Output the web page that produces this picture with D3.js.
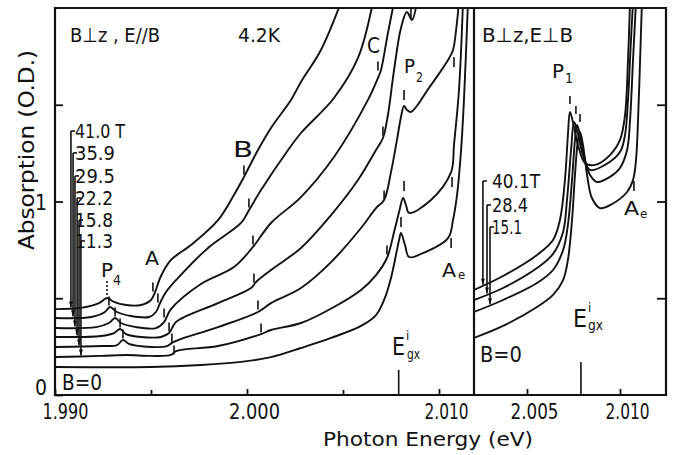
<!DOCTYPE html>
<html lang="en">
<head>
<meta charset="UTF-8">
<title>Absorption vs Photon Energy</title>
<script src="https://d3js.org/d3.v7.min.js"></script>
<style>
    body { margin: 0; background: #fff; }
    svg { display: block; }
    text { font-family: "DejaVu Sans Condensed", "Liberation Sans Narrow", "DejaVu Sans", sans-serif; fill: #111; }
    .curve { fill: none; stroke: #111; stroke-width: 1.9px; stroke-linejoin: round; }
    .frame { fill: none; stroke: #111; stroke-width: 2.2px; }
    .mark { stroke: #111; stroke-width: 1.6px; }
    .axis line { stroke: #111; stroke-width: 1.8px; }
    .axis path { display: none; }
</style>
</head>
<body>
<svg id="svg" width="677" height="455"></svg>
<script>
// ---- values: photon energy (eV), absorption (O.D.) ----

// left panel  B perp z, E // B
const eL0  = [1.99005,1.99500,1.99760,1.99969,2.00125,2.00281,2.00438,2.00594,2.00672,2.00714,2.00750,2.00776,2.00792,2.00802,2.00823,2.00844,2.00906,2.01047,2.01073,2.01094,2.01115,2.01130,2.01151];
const aL0  = [0.145,0.145,0.155,0.171,0.196,0.243,0.295,0.357,0.413,0.491,0.605,0.724,0.801,0.837,0.775,0.713,0.729,0.811,0.904,1.034,1.266,1.525,2.031];
const eL11 = [1.99005,1.99240,1.99370,1.99500,1.99604,1.99630,1.99849,2.00073,2.00125,2.00281,2.00453,2.00594,2.00672,2.00729,2.00766,2.00792,2.00813,2.00828,2.00844,2.00958,2.01063,2.01078,2.01104,2.01125];
const aL11 = [0.196,0.202,0.207,0.202,0.207,0.227,0.253,0.315,0.336,0.372,0.455,0.543,0.620,0.708,0.842,0.946,1.018,0.982,0.941,1.008,1.152,1.292,1.576,2.031];
const eL15 = [1.99005,1.99240,1.99323,1.99354,1.99385,1.99500,1.99583,1.99609,1.99641,1.99849,2.00057,2.00125,2.00281,2.00438,2.00594,2.00672,2.00714,2.00750,2.00781,2.00802,2.00818,2.00833,2.00854,2.00948,2.01047,2.01073,2.01089,2.01104];
const aL15 = [0.248,0.253,0.258,0.284,0.264,0.248,0.253,0.269,0.284,0.351,0.429,0.475,0.553,0.687,0.863,0.966,1.008,1.152,1.318,1.437,1.494,1.473,1.463,1.587,1.731,1.783,1.886,2.031];
const eL22 = [1.99005,1.99240,1.99307,1.99339,1.99370,1.99448,1.99552,1.99594,1.99630,1.99849,2.00021,2.00047,2.00125,2.00281,2.00438,2.00578,2.00672,2.00708,2.00734,2.00766,2.00802,2.00833,2.00859,2.00885];
const aL22 = [0.300,0.305,0.320,0.341,0.315,0.300,0.300,0.320,0.377,0.475,0.553,0.584,0.646,0.760,0.930,1.111,1.266,1.328,1.447,1.680,1.897,1.979,1.938,2.031];
const eL29 = [1.99005,1.99214,1.99281,1.99313,1.99344,1.99422,1.99526,1.99568,1.99604,1.99760,1.99932,2.00031,2.00125,2.00281,2.00453,2.00630,2.00682,2.00698,2.00734,2.00766];
const aL29 = [0.346,0.351,0.372,0.398,0.372,0.351,0.346,0.377,0.444,0.574,0.661,0.765,0.889,1.023,1.230,1.525,1.638,1.680,1.871,2.031];
const eL35 = [1.99005,1.99188,1.99260,1.99286,1.99323,1.99396,1.99490,1.99526,1.99547,1.99578,1.99641,1.99797,1.99969,2.00005,2.00073,2.00214,2.00281,2.00453,2.00578,2.00656];
const aL35 = [0.398,0.403,0.429,0.455,0.429,0.408,0.403,0.429,0.475,0.532,0.605,0.760,0.889,0.946,1.059,1.266,1.354,1.535,1.742,2.031];
const eL41 = [1.99005,1.99135,1.99229,1.99271,1.99307,1.99370,1.99448,1.99500,1.99521,1.99552,1.99604,1.99708,1.99849,1.99932,1.99984,2.00057,2.00125,2.00229,2.00281,2.00385,2.00490];
const aL41 = [0.444,0.450,0.475,0.501,0.481,0.465,0.465,0.491,0.532,0.615,0.698,0.775,0.904,1.034,1.127,1.266,1.380,1.525,1.618,1.783,2.031];

// right panel  B perp z, E perp B
const eR0  = [2.00215,2.00371,2.00554,2.00640,2.00694,2.00720,2.00742,2.00758,2.00774,2.00785,2.00801,2.00823,2.00849,2.00892,2.00957,2.01038,2.01070,2.01086,2.01097,2.01108,2.01118];
const aR0  = [0.295,0.357,0.455,0.517,0.594,0.698,0.904,1.137,1.318,1.359,1.292,1.137,1.018,0.966,0.987,1.049,1.111,1.214,1.421,1.731,2.031];
const eR15 = [2.00215,2.00371,2.00554,2.00640,2.00694,2.00720,2.00742,2.00758,2.00769,2.00785,2.00812,2.00839,2.00876,2.00946,2.01000,2.01038,2.01054,2.01070,2.01086];
const aR15 = [0.429,0.491,0.579,0.646,0.749,0.879,1.111,1.318,1.395,1.344,1.214,1.137,1.101,1.127,1.173,1.266,1.421,1.731,2.031];
const eR28 = [2.00215,2.00371,2.00554,2.00640,2.00694,2.00715,2.00737,2.00753,2.00769,2.00801,2.00839,2.00919,2.01000,2.01027,2.01043,2.01059,2.01070];
const aR28 = [0.491,0.553,0.656,0.729,0.842,1.008,1.266,1.411,1.370,1.240,1.163,1.189,1.256,1.344,1.525,1.835,2.031];
const eR40 = [2.00215,2.00371,2.00554,2.00640,2.00677,2.00704,2.00720,2.00731,2.00747,2.00774,2.00812,2.00866,2.00946,2.01000,2.01027,2.01043,2.01054];
const aR40 = [0.543,0.615,0.724,0.801,0.904,1.111,1.344,1.463,1.411,1.292,1.199,1.189,1.240,1.318,1.447,1.731,2.031];

// feature marks drawn as short bars above the curves
const p4E = [1.99271,1.99281,1.99313,1.99339,1.99354];
const p4A = [0.543,0.486,0.429,0.372,0.315];
const aMarkE = [1.99510,1.99536,1.99568,1.99594,1.99609,1.99620];
const aMarkA = [0.558,0.501,0.424,0.351,0.295,0.233];
const bMarkE = [1.99984,2.00010,2.00031,2.00036,2.00057,2.00073];
const bMarkA = [1.163,0.992,0.801,0.605,0.465,0.346];
const cMarkE = [2.00682,2.00708,2.00714,2.00729];
const cMarkA = [1.700,1.364,1.034,0.749];
const p2E = [2.00854,2.00818,2.00818,2.00802];
const p2A = [1.969,1.550,1.080,0.894];
const aeLeftE = [2.01078,2.01068,2.01063];
const aeLeftA = [1.721,1.101,0.785];
const p1E = [2.00731,2.00763,2.00785];
const p1A = [1.525,1.473,1.432];
const aeRightE = [2.01075];
const aeRightA = [1.080];
const egx = 2.0079;

// field labels
const leftLabels = ["41.0 T","35.9","29.5","22.2","15.8","11.3"];
const leftLabelW = [50, 40, 40, 38, 38, 38];
const leftLabelA = [1.364,1.251,1.132,1.018,0.904,0.796];
const leftPointerE = [1.99083,1.99094,1.99104,1.99115,1.99125,1.99135];
const rightLabels = ["40.1T","28.4","15.1"];
const rightLabelW = [48, 36, 30];
const rightLabelA = [1.106,0.982,0.868];
const rightPointerE = [2.00263,2.00285,2.00301];

// axes
const leftMajor = [1.990, 2.000, 2.010];
const leftMinor = [1.995, 2.005];
const rightMajor = [2.005, 2.010];
const yTicks = [0, 0.5, 1, 1.5];

// ---- layout ----
const pTop = 8, pBottom = 395, pLeft = 55, pMid = 474, pRight = 666;
const svg = d3.select("#svg");
const xL = d3.scaleLinear().domain([1.990, 2.010]).range([55, 439]);
const xR = d3.scaleLinear().domain([2.005, 2.010]).range([527, 620]);
const y = d3.scaleLinear().domain([0, 2]).range([pBottom, pTop]);

const defs = svg.append("defs");
defs.append("clipPath").attr("id", "clipL").append("rect")
    .attr("x", pLeft).attr("y", pTop).attr("width", pMid - pLeft).attr("height", pBottom - pTop);
defs.append("clipPath").attr("id", "clipR").append("rect")
    .attr("x", pMid).attr("y", pTop).attr("width", pRight - pMid).attr("height", pBottom - pTop);

function interp(E, es, as) {
    const i = d3.bisectLeft(es, E);
    if (i <= 0) return as[0];
    if (i >= es.length) return as[as.length - 1];
    const t = (E - es[i - 1]) / (es[i] - es[i - 1]);
    return as[i - 1] + t * (as[i] - as[i - 1]);
}

const leftSeries = [[eL0, aL0], [eL11, aL11], [eL15, aL15], [eL22, aL22], [eL29, aL29], [eL35, aL35], [eL41, aL41]];
const rightSeries = [[eR0, aR0], [eR15, aR15], [eR28, aR28], [eR40, aR40]];

function drawCurves(series, x, clip) {
    const line = d3.line().x(d => x(d[0])).y(d => y(d[1])).curve(d3.curveCatmullRom.alpha(0.5));
    svg.append("g").attr("clip-path", "url(#" + clip + ")")
        .selectAll("path")
        .data(series.map(s => s[0].map((e, i) => [e, s[1][i]])))
        .enter().append("path")
        .attr("class", "curve")
        .attr("d", line);
}
drawCurves(leftSeries, xL, "clipL");
drawCurves(rightSeries, xR, "clipR");

function drawMarks(es, as, x, len) {
    svg.append("g").selectAll("line")
        .data(es.map((e, i) => [e, as[i]]))
        .enter().append("line")
        .attr("class", "mark")
        .attr("x1", d => x(d[0])).attr("x2", d => x(d[0]))
        .attr("y1", d => y(d[1]) - len / 2).attr("y2", d => y(d[1]) + len / 2);
}
drawMarks(p4E.slice(1), p4A.slice(1), xL, 9);
svg.append("line").attr("class", "mark").attr("stroke-dasharray", "2,2")
    .attr("x1", xL(p4E[0])).attr("x2", xL(p4E[0]))
    .attr("y1", y(p4A[0]) - 9).attr("y2", y(p4A[0]) + 6);
drawMarks(aMarkE, aMarkA, xL, 9);
drawMarks(bMarkE, bMarkA, xL, 9);
drawMarks(cMarkE, cMarkA, xL, 9);
drawMarks(p2E, p2A, xL, 10);
drawMarks(aeLeftE, aeLeftA, xL, 10);
drawMarks(p1E, p1A, xR, 8);
drawMarks(aeRightE, aeRightA, xR, 10);

// E_gx long ticks
svg.append("line").attr("class", "mark").attr("stroke-width", 2)
    .attr("x1", xL(egx)).attr("x2", xL(egx)).attr("y1", y(0)).attr("y2", y(0.13));
svg.append("line").attr("class", "mark").attr("stroke-width", 2)
    .attr("x1", xR(egx)).attr("x2", xR(egx)).attr("y1", y(0)).attr("y2", y(0.17));

// field label pointers
function drawPointers(labels, widths, labelA, pointerE, series, x, textX) {
    labels.forEach((lab, i) => {
        const px = x(pointerE[i]);
        const s = series[i];
        const y0 = y(labelA[i]);
        const y1 = y(interp(pointerE[i], s[0], s[1])) - 1;
        svg.append("line").attr("class", "mark").attr("stroke-width", 1.4)
            .attr("x1", px).attr("x2", px).attr("y1", y0).attr("y2", y1);
        svg.append("line").attr("class", "mark").attr("stroke-width", 1.4)
            .attr("x1", px).attr("x2", px + 4).attr("y1", y0).attr("y2", y0);
        svg.append("path").attr("fill", "#111")
            .attr("d", `M${px - 2},${y1 - 6}L${px + 2},${y1 - 6}L${px},${y1}Z`);
        svg.append("text").attr("x", textX).attr("y", y0 + 7)
            .attr("font-size", 19)
            .attr("textLength", widths[i]).attr("lengthAdjust", "spacingAndGlyphs")
            .text(lab);
    });
}
drawPointers(leftLabels, leftLabelW, leftLabelA, leftPointerE, leftSeries.slice(1).reverse(), xL, 75);
drawPointers(rightLabels, rightLabelW, rightLabelA, rightPointerE, rightSeries.slice(1).reverse(), xR, 492);

// frame
svg.append("path").attr("class", "frame")
    .attr("d", `M${pLeft},${pTop}H${pRight}V${pBottom}H${pLeft}Z`);
svg.append("line").attr("class", "frame").attr("stroke-width", 2.4)
    .attr("x1", pMid).attr("x2", pMid).attr("y1", pTop).attr("y2", pBottom);

// x axes
const fmt = d3.format(".3f");
const tickW = {"1.990": 46, "2.000": 51, "2.005": 48, "2.010": 44};
function styleTicks(g) {
    g.selectAll("text")
        .attr("font-size", 21).attr("fill", "#111")
        .attr("dx", d => d === 1.990 ? 10 : 7)
        .attr("textLength", d => tickW[fmt(d)]).attr("lengthAdjust", "spacingAndGlyphs");
}
svg.append("g").attr("class", "axis").attr("transform", `translate(0,${pBottom})`)
    .call(d3.axisBottom(xL).tickValues(leftMajor).tickSizeInner(-6).tickSizeOuter(0).tickPadding(9).tickFormat(fmt))
    .call(styleTicks);
svg.append("g").attr("class", "axis").attr("transform", `translate(0,${pBottom})`)
    .call(d3.axisBottom(xL).tickValues(leftMinor).tickSizeInner(-5).tickSizeOuter(0).tickFormat(""));
svg.append("g").attr("class", "axis").attr("transform", `translate(0,${pBottom})`)
    .call(d3.axisBottom(xR).tickValues(rightMajor).tickSizeInner(-6).tickSizeOuter(0).tickPadding(9).tickFormat(fmt))
    .call(styleTicks);

// y axes
svg.append("g").attr("class", "axis").attr("transform", `translate(${pLeft},0)`)
    .call(d3.axisLeft(y).tickValues(yTicks).tickSizeInner(-8).tickSizeOuter(0).tickPadding(8)
        .tickFormat(d => (d === 0 || d === 1) ? d3.format("d")(d) : ""))
    .call(g => g.selectAll("text").attr("font-size", 21).attr("fill", "#111")
        .attr("dy", d => d === 0 ? "-0.02em" : "0.36em"));
svg.append("g").attr("class", "axis").attr("transform", `translate(${pRight},0)`)
    .call(d3.axisRight(y).tickValues(yTicks.slice(1)).tickSizeInner(-9).tickSizeOuter(0).tickFormat(""));

// axis titles
svg.append("text").attr("x", 428).attr("y", 446).attr("text-anchor", "middle")
    .attr("font-size", 20).attr("textLength", 210).attr("lengthAdjust", "spacingAndGlyphs")
    .text("Photon Energy (eV)");
svg.append("text").attr("transform", "translate(34,150) rotate(-90)").attr("text-anchor", "middle")
    .attr("font-size", 21).attr("textLength", 200).attr("lengthAdjust", "spacingAndGlyphs")
    .text("Absorption (O.D.)");

// annotations
function label(x, yy, txt, size, w) {
    const t = svg.append("text").attr("x", x).attr("y", yy).attr("font-size", size).text(txt);
    if (w) t.attr("textLength", w).attr("lengthAdjust", "spacingAndGlyphs");
}
label(70, 42, "B\u22a5z , E//B", 20, 90);
label(238, 42, "4.2K", 20, 42);
label(482, 42, "B\u22a5z,E\u22a5B", 20, 91);
label(233, 157, "B", 22, 20);
label(145, 265, "A", 20, 14);
label(367, 53, "C", 21, 13);
label(101, 277, "P", 20, 12); label(113, 285, "4", 14, 8);
label(404, 73, "P", 20, 11); label(416, 82, "2", 14, 7);
label(552, 78, "P", 20, 12); label(565, 83, "1", 14);
label(442, 277, "A", 20, 14); label(458, 279, "e", 13);
label(624, 215, "A", 20, 15); label(640, 218, "e", 13);
label(392, 355, "E", 24, 13); label(406, 340, "i", 13); label(407, 359, "gx", 14, 13);
label(573, 327, "E", 24, 14); label(588, 312, "i", 13); label(588, 330, "gx", 14, 15);
label(62, 390, "B=0", 22, 40);
label(480, 362, "B=0", 22, 42);
</script>
</body>
</html>
